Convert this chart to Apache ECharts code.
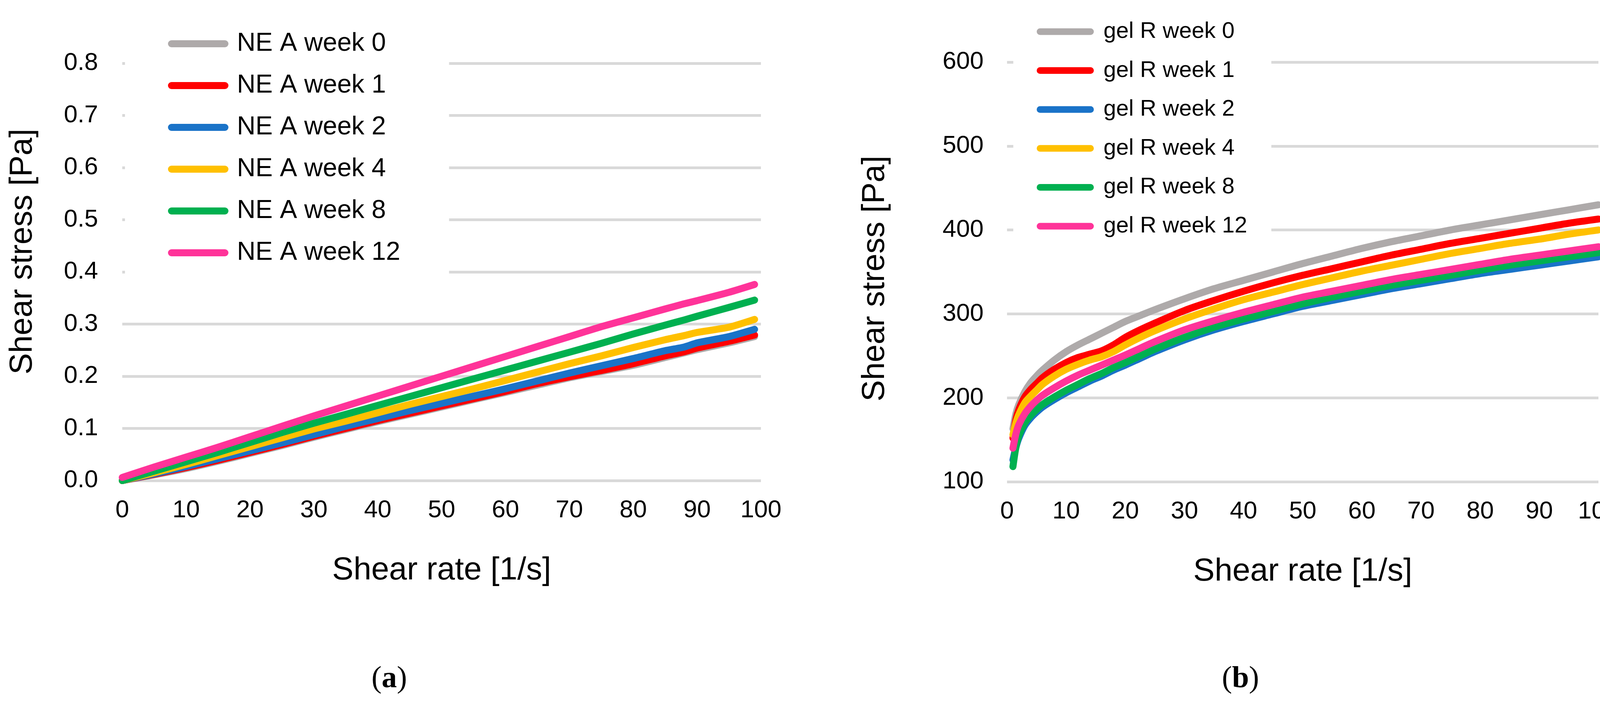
<!DOCTYPE html>
<html>
<head>
<meta charset="utf-8">
<script src="https://cdn.jsdelivr.net/npm/echarts@6/dist/echarts.min.js"></script>
<style>
html,body{margin:0;padding:0;background:#fff;overflow:hidden;}
#chart{width:4172px;height:1807px;}
</style>
</head>
<body>
<div id="chart"></div>
<script>
// ---------- Data ----------
// Panel (a): NE A
const rateA = [0, 5, 10, 15, 20, 25, 30, 35, 40, 45, 50, 55, 60, 65, 70, 75, 80, 85, 88, 90, 95, 99];
const neA_w0  = [0.000, 0.011, 0.023, 0.037, 0.052, 0.067, 0.083, 0.098, 0.113, 0.127, 0.141, 0.155, 0.169, 0.183, 0.197, 0.209, 0.221, 0.236, 0.245, 0.251, 0.264, 0.276];
const neA_w1  = [0.000, 0.012, 0.025, 0.039, 0.054, 0.069, 0.085, 0.100, 0.115, 0.129, 0.143, 0.157, 0.171, 0.186, 0.199, 0.211, 0.224, 0.239, 0.247, 0.254, 0.267, 0.279];
const neA_w2  = [0.000, 0.013, 0.027, 0.042, 0.057, 0.072, 0.088, 0.104, 0.119, 0.134, 0.148, 0.162, 0.176, 0.191, 0.206, 0.220, 0.234, 0.249, 0.256, 0.264, 0.276, 0.290];
const neA_w4  = [0.000, 0.015, 0.031, 0.048, 0.065, 0.082, 0.099, 0.114, 0.130, 0.146, 0.161, 0.176, 0.192, 0.208, 0.224, 0.239, 0.255, 0.270, 0.278, 0.284, 0.294, 0.309];
const neA_w8  = [0.000, 0.018, 0.036, 0.054, 0.073, 0.092, 0.110, 0.127, 0.144, 0.161, 0.178, 0.195, 0.212, 0.229, 0.246, 0.263, 0.281, 0.298, 0.308, 0.315, 0.332, 0.346];
const neA_w12 = [0.006, 0.026, 0.045, 0.064, 0.084, 0.104, 0.124, 0.143, 0.162, 0.181, 0.200, 0.219, 0.238, 0.257, 0.276, 0.295, 0.312, 0.329, 0.339, 0.345, 0.361, 0.376];
const namesA = ['NE A week 0', 'NE A week 1', 'NE A week 2', 'NE A week 4', 'NE A week 8', 'NE A week 12'];
const yTicksA = [0, 0.1, 0.2, 0.3, 0.4, 0.5, 0.6, 0.7, 0.8];

// Panel (b): gel R
const rateB = [1, 1.5, 2, 3, 4, 5, 6, 8, 10, 12, 14, 16, 18, 20, 22.5, 25, 30, 35, 40, 45, 50, 55, 60, 65, 70, 75, 80, 85, 90, 95, 100];
const gelR_w0  = [163, 181, 192, 207, 218, 226, 233, 245, 255, 263, 270, 277, 284, 291, 298, 305, 318, 330, 340, 350, 360, 369, 378, 386, 393, 400, 406, 412, 418, 424, 430];
const gelR_w1  = [152, 174, 186, 201, 210, 217, 224, 234, 242, 248, 252, 256, 263, 272, 281, 289, 304, 316, 327, 337, 346, 354, 362, 370, 377, 384, 390, 396, 402, 408, 413];
const gelR_w2  = [126, 141, 152, 167, 176, 183, 189, 198, 206, 213, 220, 226, 233, 239, 247, 255, 269, 281, 291, 300, 309, 316, 323, 330, 336, 342, 348, 353, 358, 363, 368];
const gelR_w4  = [156, 170, 180, 194, 202, 209, 216, 226, 234, 240, 245, 249, 255, 263, 272, 280, 294, 306, 317, 326, 335, 343, 351, 358, 365, 372, 378, 384, 389, 395, 400];
const gelR_w8  = [118, 141, 155, 170, 179, 186, 192, 201, 209, 216, 223, 229, 236, 242, 250, 258, 272, 284, 294, 303, 312, 320, 327, 334, 340, 346, 352, 358, 363, 368, 373];
const gelR_w12 = [140, 157, 168, 181, 190, 197, 203, 212, 220, 227, 233, 239, 245, 251, 259, 267, 281, 292, 302, 311, 320, 327, 334, 341, 347, 353, 359, 365, 370, 375, 380];
const namesB = ['gel R week 0', 'gel R week 1', 'gel R week 2', 'gel R week 4', 'gel R week 8', 'gel R week 12'];
const yTicksB = [100, 200, 300, 400, 500, 600];
const xTicks = [0, 10, 20, 30, 40, 50, 60, 70, 80, 90, 100];

const colors = ['#aeaaaa', '#ff0000', '#1a73c8', '#ffc000', '#00b050', '#ff3399'];

// ---------- Build ----------
const FONT = "'Liberation Sans', Arial, sans-serif";
const SERIF = "'Liberation Serif', 'Times New Roman', serif";
const zip = (xs, ys) => xs.map((x, i) => [x, ys[i]]);
const seriesA = [neA_w0, neA_w1, neA_w2, neA_w4, neA_w8, neA_w12];
const seriesB = [gelR_w0, gelR_w1, gelR_w2, gelR_w4, gelR_w8, gelR_w12];
const capsule = 'path://M10,0 L162,0 A10,10 0 0 1 162,20 L10,20 A10,10 0 0 1 10,0 Z';

const series = [];
seriesA.forEach((ys, i) => series.push({
  name: namesA[i], type: 'line', xAxisIndex: 0, yAxisIndex: 0,
  data: zip(rateA, ys), symbol: 'none', smooth: 0.2,
  color: colors[i],
  lineStyle: { width: 18, color: colors[i], cap: 'round', join: 'round' },
  z: 2 + i
}));
seriesB.forEach((ys, i) => series.push({
  name: namesB[i], type: 'line', xAxisIndex: 1, yAxisIndex: 1,
  data: zip(rateB, ys), symbol: 'none', smooth: 0.3,
  color: colors[i],
  lineStyle: { width: 18, color: colors[i], cap: 'round', join: 'round' },
  z: 2 + i
}));

function xAxis(gridIndex) {
  return {
    type: 'value', gridIndex, min: 0, max: 100, interval: 10,
    name: 'Shear rate [1/s]', nameLocation: 'middle', nameGap: 189,
    nameTextStyle: { fontFamily: FONT, fontSize: 82, color: '#000', lineHeight: 82 },
    axisLine: { show: false }, axisTick: { show: false }, splitLine: { show: false },
    axisLabel: { fontFamily: FONT, fontSize: 63, color: '#000', margin: 45, lineHeight: 63,
      customValues: xTicks }
  };
}

const option = {
  backgroundColor: '#ffffff',
  animation: false,
  grid: [
    { left: 313, right: 4172 - 1948, top: 162, bottom: 1807 - 1230 },
    { left: 2578, right: 4172 - 4092, top: 159, bottom: 1807 - 1233 }
  ],
  xAxis: [xAxis(0), xAxis(1)],
  yAxis: [
    {
      type: 'value', gridIndex: 0, min: 0, max: 0.8, interval: 0.1,
      name: 'Shear stress [Pa]', nameLocation: 'middle', nameGap: 214,
      nameTextStyle: { fontFamily: FONT, fontSize: 82, color: '#000', lineHeight: 82, padding: [0, 0, 0, 104] },
      axisLine: { show: false }, axisTick: { show: false },
      splitLine: { show: true, lineStyle: { color: '#d9d9d9', width: 7 } },
      axisLabel: { fontFamily: FONT, fontSize: 63, color: '#000', margin: 62,
        customValues: yTicksA, formatter: v => Number(v).toFixed(1) }
    },
    {
      type: 'value', gridIndex: 1, min: 100, max: 600, interval: 100,
      name: 'Shear stress [Pa]', nameLocation: 'middle', nameGap: 297,
      nameTextStyle: { fontFamily: FONT, fontSize: 82, color: '#000', lineHeight: 82, padding: [0, 34, 0, 0] },
      axisLine: { show: false }, axisTick: { show: false },
      splitLine: { show: true, lineStyle: { color: '#d9d9d9', width: 7 } },
      axisLabel: { fontFamily: FONT, fontSize: 63, color: '#000', margin: 60, customValues: yTicksB }
    }
  ],
  legend: [
    {
      data: namesA, orient: 'vertical', left: 320, top: 39,
      padding: [40, 125, 60, 110],
      backgroundColor: '#ffffff',
      itemWidth: 172, itemHeight: 18, itemGap: 41, icon: capsule,
      textStyle: { fontFamily: FONT, fontSize: 66, color: '#000', lineHeight: 66, padding: [0, 0, 0, 8] },
      selectedMode: false, z: 10
    },
    {
      data: namesB, orient: 'vertical', left: 2594, top: 22,
      padding: [30, 62, 60, 60],
      backgroundColor: '#ffffff',
      itemWidth: 174, itemHeight: 17, itemGap: 41.6, icon: capsule,
      textStyle: { fontFamily: FONT, fontSize: 58, color: '#000', lineHeight: 58, padding: [0, 0, 0, 6] },
      selectedMode: false, z: 10
    }
  ],
  graphic: [
    {
      type: 'text', left: 997 - 46, top: 1745 - 45,
      style: {
        text: '{n|(}{b|a}{n|)}',
        rich: {
          n: { fontFamily: SERIF, fontSize: 78, fill: '#000' },
          b: { fontFamily: SERIF, fontSize: 78, fontWeight: 'bold', fill: '#000' }
        }
      }
    },
    {
      type: 'text', left: 3178 - 50, top: 1745 - 45,
      style: {
        text: '{n|(}{b|b}{n|)}',
        rich: {
          n: { fontFamily: SERIF, fontSize: 78, fill: '#000' },
          b: { fontFamily: SERIF, fontSize: 78, fontWeight: 'bold', fill: '#000' }
        }
      }
    }
  ],
  series
};

const chart = echarts.init(document.getElementById('chart'), null, { renderer: 'canvas' });
chart.setOption(option);
</script>
</body>
</html>
